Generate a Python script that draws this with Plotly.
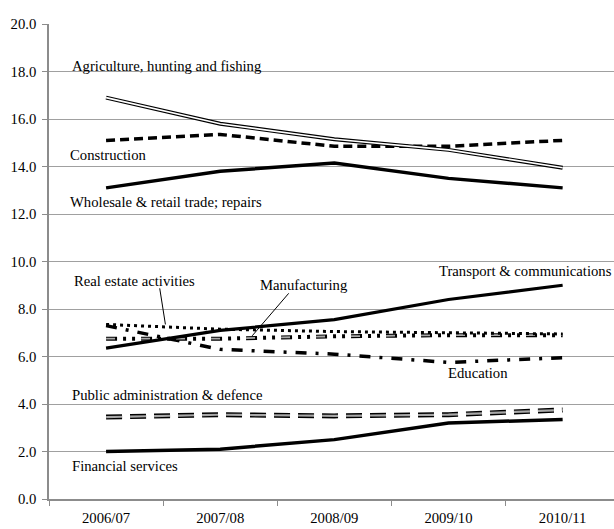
import plotly.graph_objects as go

years = ["2006/07", "2007/08", "2008/09", "2009/10", "2010/11"]

agriculture = [16.9, 15.8, 15.15, 14.7, 13.95]
construction = [15.1, 15.35, 14.85, 14.85, 15.1]
wholesale = [13.1, 13.8, 14.15, 13.5, 13.1]
transport = [6.35, 7.1, 7.55, 8.4, 9.0]
real_estate = [7.35, 7.15, 7.05, 7.0, 6.95]
manufacturing = [6.75, 6.75, 6.85, 6.9, 6.9]
education = [7.3, 6.3, 6.1, 5.75, 5.95]
public_admin = [3.45, 3.55, 3.5, 3.55, 3.75]
financial = [2.0, 2.1, 2.5, 3.2, 3.35]

y_ticks = [0, 2, 4, 6, 8, 10, 12, 14, 16, 18, 20]

FONT = "Liberation Serif"
FS = 14.7

fig = go.Figure()

def add(y, color, width, dash="solid", name=""):
    fig.add_trace(go.Scatter(x=years, y=y, mode="lines", name=name,
                             line=dict(color=color, width=width, dash=dash),
                             hoverinfo="skip", showlegend=False))

# Public administration: outlined grey dashes
add(public_admin, "black", 5, "16px,8px")
add(public_admin, "#a8a8a8", 2.2, "16px,8px")
# Financial services
add(financial, "black", 3.5)
# Education: dash-dot
add(education, "black", 3.5, "11px,9px,3px,9px")
# Manufacturing: outlined grey dash + dots
add(manufacturing, "black", 4, "11px,6px,3px,6px,3px,6px")
add(manufacturing, "#a8a8a8", 1.8, "9px,26px")
# Real estate: dotted
add(real_estate, "black", 3, "3px,4px")
# Transport
add(transport, "black", 3.2)
# Wholesale
add(wholesale, "black", 3.5)
# Construction: dashed
add(construction, "black", 3.5, "9px,5px")
# Agriculture: double line
add(agriculture, "black", 4)
add(agriculture, "white", 1.6)

ann_font = dict(family=FONT, size=FS, color="black")
labels = [
    ("Agriculture, hunting and fishing", -0.31, 18.25),
    ("Construction", -0.325, 14.5),
    ("Wholesale & retail trade; repairs", -0.325, 12.5),
    ("Real estate activities", -0.29, 9.2),
    ("Manufacturing", 1.34, 9.0),
    ("Transport & communications", 2.91, 9.6),
    ("Education", 2.99, 5.32),
    ("Public administration & defence", -0.31, 4.4),
    ("Financial services", -0.31, 1.38),
]
for text, x, y in labels:
    fig.add_annotation(text=text, x=x, y=y, xref="x", yref="y",
                       xanchor="left", yanchor="middle", showarrow=False,
                       borderpad=0, font=ann_font)

# pointer lines
fig.add_shape(type="line", xref="x", yref="y", x0=0.47, y0=8.87, x1=0.52, y1=7.35,
              line=dict(color="black", width=1))
fig.add_shape(type="line", xref="x", yref="y", x0=1.60, y0=8.66, x1=1.28, y1=6.87,
              line=dict(color="black", width=1))

fig.update_layout(
    width=614, height=529,
    margin=dict(l=49, r=0, t=24, b=30),
    paper_bgcolor="white", plot_bgcolor="white",
    font=dict(family=FONT, size=FS, color="black"),
    showlegend=False,
)
fig.update_xaxes(
    type="category", range=[-0.5, 4.45],
    showgrid=False, showline=True, linecolor="#8c8c8c", linewidth=1.5,
    ticks="outside", tickson="boundaries", ticklen=5, tickcolor="#8c8c8c",
    ticklabelstandoff=5,
    tickfont=dict(family=FONT, size=FS, color="black"),
    zeroline=False,
)
fig.update_yaxes(
    range=[0, 20], tickvals=y_ticks, tickformat=".1f",
    showgrid=True, gridcolor="#a0a0a0", gridwidth=1,
    showline=True, linecolor="#8c8c8c", linewidth=1.5,
    ticks="outside", ticklen=5, tickcolor="#8c8c8c",
    ticklabelstandoff=3,
    tickfont=dict(family=FONT, size=FS, color="black"),
    zeroline=False,
)

fig.write_html("out.html", config={"displayModeBar": False},
               post_script="document.body.style.margin='0';document.body.style.overflow='hidden';")
